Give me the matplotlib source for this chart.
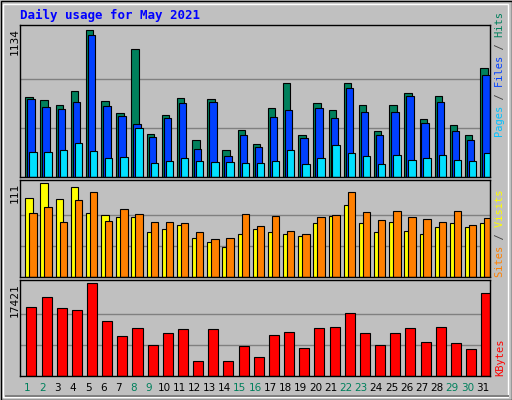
import matplotlib
matplotlib.use("Agg")
import matplotlib.pyplot as plt
from matplotlib.patches import Rectangle
import numpy as np

days = list(range(1, 32))
weekend = [1, 2, 8, 9, 15, 16, 22, 23, 29, 30]
hits = [616,595,557,665,1134,588,495,988,334,480,611,287,603,210,364,257,534,726,326,572,518,726,557,357,557,649,449,626,403,326,842]
files = [603,541,526,580,1096,549,472,411,310,457,572,218,580,164,326,233,464,518,303,534,457,688,503,326,503,626,418,580,357,287,788]
pages = [195,195,210,264,203,149,157,380,110,126,149,126,118,118,110,110,126,210,103,149,249,187,164,103,172,134,149,172,134,126,187]
visits = [94,111,92,107,76,74,71,71,53,57,62,46,41,36,51,57,53,51,48,64,72,85,64,53,65,55,51,59,64,59,64]
sites = [76,83,65,91,101,66,81,75,65,65,64,53,45,46,75,60,72,54,51,71,73,101,77,67,78,71,69,65,78,62,70]
kbytes = [13038,14755,12848,12466,17421,10367,7505,9031,5788,8078,8841,2735,8841,2735,5597,3498,7696,8268,5215,9031,9222,11893,8078,5788,8078,9031,6360,9222,6169,5024,15519]

W, H = 512, 400
fig = plt.figure(figsize=(W/100, H/100), dpi=100)
fig.patch.set_facecolor("#C0C0C0")
fig.add_artist(Rectangle((0.5/W, 0.5/H), 1-1/W, 1-1/H, transform=fig.transFigure, fill=False, ec="black", lw=1))
fig.add_artist(Rectangle((3/W, 3/H), 1-7/W, 1-7/H, transform=fig.transFigure, fill=False, ec="white", lw=1))
fig.add_artist(Rectangle((5/W, 3/H), 1-8/W, 2/H, transform=fig.transFigure, fill=True, fc="#808080", ec="none"))

def px_axes(x0, y0, x1, y1):
    ax = fig.add_axes([x0/W, 1-y1/H, (x1-x0)/W, (y1-y0)/H])
    ax.set_facecolor("#C0C0C0")
    for s in ax.spines.values():
        s.set_color("black"); s.set_linewidth(1)
    ax.set_xticks([]); ax.set_yticks([])
    ax.set_xlim(0.5, 31.5)
    return ax

mono = "DejaVu Sans Mono"
x = np.array(days) - 0.5

def panel(ax, y0px, vmax, label):
    ax.set_ylim(0, vmax*1.035)
    for g in (vmax/3, 2*vmax/3):
        ax.axhline(g, color="#808080", lw=1, zorder=0)
    fig.text(15/W, 1-(y0px+3)/H, label, rotation=90, ha="center", va="top",
             fontsize=8, family=mono, color="black")

ax1 = px_axes(20, 25, 490, 177)
panel(ax1, 25, max(hits), str(max(hits)))
kw = dict(align="edge", edgecolor="black", linewidth=0.8, width=0.49)
ax1.bar(x+0.35, hits, color="#00805C", **kw)
ax1.bar(x+0.48, files, color="#0040FF", **kw)
ax1.bar(x+0.61, pages, color="#00E0FF", **kw)

ax2 = px_axes(20, 180, 490, 277)
panel(ax2, 180, max(visits), str(max(visits)))
ax2.bar(x+0.35, visits, color="#FFFF00", **kw)
ax2.bar(x+0.61, sites, color="#FF8000", **kw)

ax3 = px_axes(20, 280, 490, 376)
panel(ax3, 280, max(kbytes), str(max(kbytes)))
ax3.bar(x+0.42, kbytes, color="#FF0000", align="edge", edgecolor="black", linewidth=0.8, width=0.66)

for d in days:
    ax3.text(d, -0.13, str(d), transform=ax3.get_xaxis_transform(), ha="center", va="center",
             fontsize=7.5, color="#00805C" if d in weekend else "black", family="DejaVu Sans")

fig.text(20/W, 1-15/H, "Daily usage for May 2021", color="#0000FF", fontsize=9, family=mono,
         weight="bold", ha="left", va="center")

def side_label(pieces, y_bottom_px):
    full = "".join(t for t, _ in pieces)
    pos = 0
    for txt, col in pieces:
        s = " " * pos + txt + " " * (len(full) - pos - len(txt))
        s = s.replace(" ", "\u2007") if False else s
        fig.text(500/W, 1-y_bottom_px/H, s, rotation=90, ha="center", va="bottom", color=col,
                 fontsize=7.5, family=mono)
        pos += len(txt)

side_label([("Pages", "#00C0FF"), (" / ", "#404040"), ("Files", "#0040FF"), (" / ", "#404040"), ("Hits", "#00805C")], 137)
side_label([("Sites", "#FF8000"), (" / ", "#404040"), ("Visits", "#FFFF00")], 277)
side_label([("KBytes", "#FF0000")], 376)

fig.savefig("out.png", dpi=100, facecolor=fig.get_facecolor())
